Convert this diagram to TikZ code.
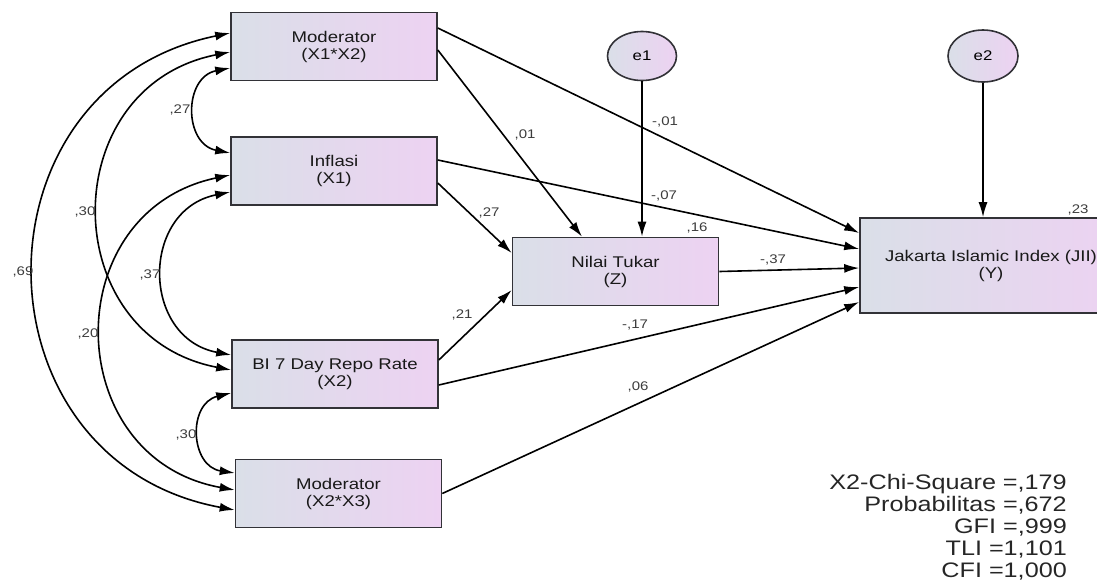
\documentclass[tikz,border=0pt]{standalone}
\usepackage{fontspec}
\setmainfont[FakeStretch=1.2]{Liberation Sans}
\usepackage{tikz}
\usetikzlibrary{arrows.meta,shapes.geometric}

\definecolor{boxleft}{RGB}{218,223,232}
\definecolor{boxright}{RGB}{237,210,242}
\definecolor{boxline}{RGB}{50,50,55}
\definecolor{coefgray}{RGB}{60,60,60}

\begin{document}
\begin{tikzpicture}[x=1pt,y=1pt,>={Latex[length=15pt,width=9pt]},
    var/.style={draw=boxline,line width=1.6pt,left color=boxleft,right color=boxright,
      minimum width=206pt,minimum height=68pt,align=center,inner sep=0pt,
      font=\fontsize{15.5}{17}\selectfont,text=black!90},
    err/.style={ellipse,draw=boxline,line width=1.6pt,left color=boxleft,right color=boxright,
      minimum width=69pt,minimum height=49pt,inner sep=0pt,font=\fontsize{14}{16}\selectfont},
    pth/.style={->,line width=1.6pt},
    cov/.style={<->,line width=1.6pt,bend right=79,looseness=1.44},
    coef/.style={font=\fontsize{12.5}{13}\selectfont,text=coefgray,inner sep=0pt}]

    \useasboundingbox (0,0) rectangle (1097,-582);

    % observed variables
    \node[var] (m1) at (334,-46.5) {Moderator\\(X1*X2)};
    \node[var] (infl) at (334,-171) {Inflasi\\(X1)};
    \node[var] (bi) at (335,-374) {BI 7 Day Repo Rate\\(X2)};
    \node[var] (m2) at (338.5,-493.5) {Moderator\\(X2*X3)};
    \node[var] (nt) at (615.5,-271.5) {Nilai Tukar\\(Z)};
    \node[var,minimum width=262pt,minimum height=95pt] (jii) at (991,-265.5) {Jakarta Islamic Index (JII)\\(Y)};

    % error terms
    \node[err] (e1) at (642,-56) {e1};
    \node[err,minimum width=70pt,minimum height=52pt] (e2) at (983,-56) {e2};

    % covariances
    \draw[cov] ([yshift=-21.5pt]m1.west) to ([yshift=18pt]infl.west);
    \draw[cov] ([yshift=-5.5pt]m1.west) to ([yshift=4pt]bi.west);
    \draw[cov] ([yshift=13.5pt]m1.west) to ([yshift=-16.5pt]m2.west);
    \draw[cov] ([yshift=-21pt]infl.west) to ([yshift=19pt]bi.west);
    \draw[cov] ([yshift=-4pt]infl.west) to ([yshift=3.5pt]m2.west);
    \draw[cov] ([yshift=-19pt]bi.west) to ([yshift=20.5pt]m2.west);

    % paths
    \draw[pth] ([yshift=18.5pt]m1.east) -- ([yshift=32.5pt]jii.west);
    \draw[pth] ([yshift=-3.5pt]m1.east) -- ([xshift=-33.5pt]nt.north);
    \draw[pth] ([yshift=11pt]infl.east) -- ([yshift=16.5pt]jii.west);
    \draw[pth] ([yshift=-12pt]infl.east) -- ([yshift=18.5pt]nt.west);
    \draw[pth] ([yshift=14pt]bi.east) -- ([yshift=-18.5pt]nt.west);
    \draw[pth] ([yshift=-11pt]bi.east) -- ([yshift=-21.5pt]jii.west);
    \draw[pth] (m2.east) -- ([yshift=-36.5pt]jii.west);
    \draw[pth] (nt.east) -- ([yshift=-2.5pt]jii.west);
    \draw[pth] (e1.south) -- (e1.south |- nt.north);
    \draw[pth] (e2.south) -- (e2.south |- jii.north);

    % estimates
    \node[coef] (k27a) at (180,-110) {,27};
    \node[coef] (k30a) at (85,-212) {,30};
    \node[coef] (k69) at (23,-272) {,69};
    \node[coef] (k37a) at (150,-275) {,37};
    \node[coef] (k20) at (88,-334) {,20};
    \node[coef] (k30b) at (186,-435) {,30};
    \node[coef] (k01a) at (525,-135) {,01};
    \node[coef] (k01b) at (665,-122) {-,01};
    \node[coef] (k07) at (664,-196) {-,07};
    \node[coef] (k27b) at (489,-213) {,27};
    \node[coef] (k16) at (697,-228) {,16};
    \node[coef] (k37b) at (773,-260) {-,37};
    \node[coef] (k21) at (462,-315) {,21};
    \node[coef] (k17) at (635,-325) {-,17};
    \node[coef] (k06) at (638,-387) {,06};
    \node[coef] (k23) at (1078,-210) {,23};

    % fit indices
    \node[anchor=east,align=right,inner sep=0pt,text=black!85,font=\fontsize{21}{22}\selectfont] (fit) at (1067,-527.5)
      {X2-Chi-Square =,179\\Probabilitas =,672\\GFI =,999\\TLI =1,101\\CFI =1,000};
\end{tikzpicture}
\end{document}
